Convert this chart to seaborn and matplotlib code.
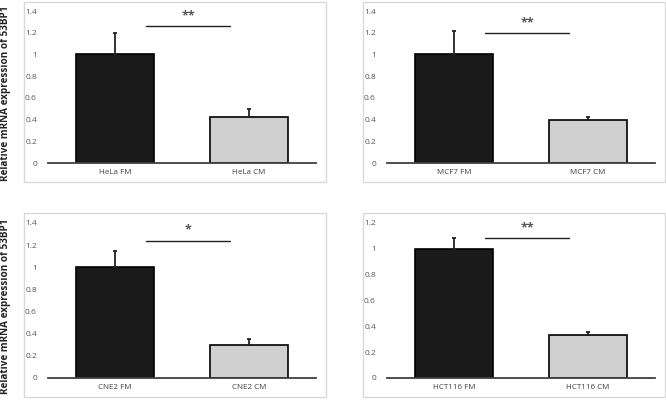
import numpy as np
import pandas as pd
import matplotlib
matplotlib.use("Agg")
import matplotlib.pyplot as plt
import seaborn as sns
from matplotlib.patches import Rectangle

sns.set_style("white")
plt.rcParams['font.family'] = ['Open Sans', 'DejaVu Sans']

# data
cell_lines = ['HeLa', 'MCF7', 'CNE2', 'HCT116']
conditions = ['FM', 'CM']
means = {'HeLa': [1.0, 0.42], 'MCF7': [1.0, 0.40], 'CNE2': [1.0, 0.30], 'HCT116': [1.0, 0.33]}
errors = {'HeLa': [0.20, 0.08], 'MCF7': [0.22, 0.02], 'CNE2': [0.15, 0.05], 'HCT116': [0.08, 0.03]}
stars = {'HeLa': '**', 'MCF7': '**', 'CNE2': '*', 'HCT116': '**'}
sig_level = {'HeLa': 1.26, 'MCF7': 1.20, 'CNE2': 1.24, 'HCT116': 1.08}
y_max = {'HeLa': 1.4, 'MCF7': 1.4, 'CNE2': 1.4, 'HCT116': 1.2}

bar_colors = ['#1a1a1a', '#d0d0d0']
W, H = 666, 400

fig = plt.figure(figsize=(W / 100, H / 100), dpi=100)

# plot areas in pixels: left, baseline y, right, top y
areas = {
    'HeLa': (48, 163, 316, 11),
    'MCF7': (387, 163, 655, 11),
    'CNE2': (48, 378, 316, 223),
    'HCT116': (387, 378, 655, 223),
}
boxes = {
    'HeLa': (24, 2, 326, 182),
    'MCF7': (363, 2, 665, 182),
    'CNE2': (24, 213, 326, 397),
    'HCT116': (363, 213, 665, 397),
}

for cl in cell_lines:
    bx0, by0, bx1, by1 = boxes[cl]
    fig.patches.append(Rectangle((bx0 / W, 1 - by1 / H), (bx1 - bx0) / W, (by1 - by0) / H,
                                 transform=fig.transFigure, fill=False,
                                 edgecolor='#d9d9d9', linewidth=1.0))
    x0, y0, x1, y1 = areas[cl]
    ax = fig.add_axes([x0 / W, 1 - y0 / H, (x1 - x0) / W, (y0 - y1) / H])

    df = pd.DataFrame({'group': [f'{cl} {c}' for c in conditions],
                       'value': means[cl], 'err': errors[cl]})
    sns.barplot(data=df, x='group', y='value', hue='group', palette=bar_colors,
                edgecolor='black', linewidth=1.2, width=0.58, legend=False, ax=ax)
    ax.errorbar(np.arange(len(df)), df['value'],
                yerr=[np.zeros(len(df)), df['err']], fmt='none',
                ecolor='#222222', elinewidth=1.3, capsize=1.5, capthick=1.3)

    # significance bar
    ax.plot([0.23, 0.86], [sig_level[cl]] * 2, color='#222222', lw=1.0)
    ax.text(0.545, sig_level[cl] + 0.035 * y_max[cl] / 1.4, stars[cl], ha='center', va='bottom',
            fontsize=9, fontweight='bold', color='#555555')

    ticks = np.round(np.arange(0, y_max[cl] + 0.01, 0.2), 1)
    ax.set_xlim(-0.5, 1.5)
    ax.set_ylim(0, y_max[cl])
    ax.set_yticks(ticks)
    ax.set_yticklabels([f'{t:g}' for t in ticks])
    ax.tick_params(axis='y', length=0, labelsize=6, labelcolor='#595959', pad=8)
    ax.tick_params(axis='x', length=0, labelsize=5.8, labelcolor='#404040', pad=4)
    ax.set_xlabel('')
    ax.set_ylabel('')
    for s in ['top', 'right', 'left']:
        ax.spines[s].set_visible(False)
    ax.spines['bottom'].set_color('#404040')
    ax.spines['bottom'].set_linewidth(1.3)
    ax.patch.set_alpha(0)

for yc in [93, 306]:
    fig.text(6 / W, 1 - yc / H, 'Relative mRNA expression of 53BP1', rotation=90,
             ha='center', va='center', fontsize=7.1, fontweight='bold', color='#222222')

fig.savefig('out.png', dpi=100)
